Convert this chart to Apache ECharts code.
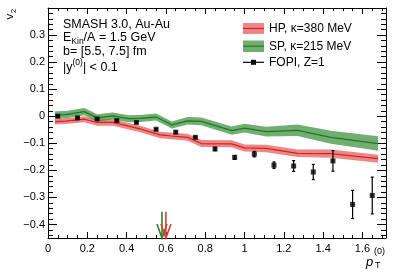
<!DOCTYPE html>
<html><head><meta charset="utf-8">
<script src="https://cdn.jsdelivr.net/npm/echarts@6/dist/echarts.min.js"></script>
<style>html,body{margin:0;padding:0;background:#fff}#c{width:399px;height:272px}</style>
</head><body><div id="c"></div>
<script>
// ---- data ----
const fopiX   = [0.05, 0.15, 0.25, 0.35, 0.45, 0.55, 0.65, 0.75, 0.85, 0.95, 1.05, 1.15, 1.25, 1.35, 1.45, 1.55, 1.65];
const fopiY   = [0.000, -0.006, -0.010, -0.016, -0.023, -0.048, -0.059, -0.078, -0.121, -0.152, -0.140, -0.181, -0.184, -0.206, -0.165, -0.326, -0.293];
const fopiErr = [0.003, 0.003, 0.003, 0.003, 0.003, 0.003, 0.004, 0.004, 0.006, 0.007, 0.010, 0.012, 0.020, 0.028, 0.038, 0.052, 0.068];

const spX   = [0.035, 0.09, 0.185, 0.25, 0.33, 0.41, 0.47, 0.55, 0.63, 0.71, 0.78, 0.935, 1.0, 1.11, 1.27, 1.44, 1.68];
const spY   = [0.005, 0.006, 0.017, -0.006, 0.001, -0.009, -0.008, -0.003, -0.032, -0.017, -0.019, -0.053, -0.044, -0.057, -0.052, -0.078, -0.101];
const spErr = [0.013, 0.013, 0.013, 0.013, 0.013, 0.013, 0.013, 0.013, 0.013, 0.014, 0.014, 0.015, 0.016, 0.018, 0.021, 0.024, 0.027];

const hpX   = [0.035, 0.09, 0.185, 0.25, 0.33, 0.47, 0.57, 0.63, 0.71, 0.78, 0.935, 1.0, 1.11, 1.27, 1.44, 1.68];
const hpY   = [-0.020, -0.018, -0.011, -0.023, -0.023, -0.047, -0.069, -0.073, -0.078, -0.101, -0.102, -0.117, -0.119, -0.137, -0.138, -0.157];
const hpErr = [0.011, 0.011, 0.011, 0.012, 0.012, 0.012, 0.012, 0.012, 0.013, 0.013, 0.013, 0.013, 0.014, 0.014, 0.015, 0.015];

const arrowX   = [0.58, 0.60];
const arrowTop = [-0.353, -0.353];

const xMajor = [0, 0.2, 0.4, 0.6, 0.8, 1.0, 1.2, 1.4, 1.6];
const yMajor = [-0.4, -0.3, -0.2, -0.1, 0, 0.1, 0.2, 0.3, 0.4];
const xMinor = []; for (let i = 1; i <= 34; i++) if (i % 4) xMinor.push(+(i * 0.05).toFixed(2));
const yMinor = []; for (let i = -22; i <= 20; i++) if (i % 5) yMinor.push(+(i * 0.02).toFixed(2));

const X_MIN = 0, X_MAX = 1.72, Y_MIN = -0.45, Y_MAX = 0.4;

// ---- styles ----
const FONT = '"Liberation Sans", Arial, Helvetica, sans-serif';
const RED_FILL = 'rgba(225,55,55,0.6)', RED_LINE = '#d42020';
const GRN_FILL = 'rgba(45,135,45,0.68)', GRN_LINE = '#1e7a1e';

const ctx = document.createElement('canvas').getContext('2d');
function tw(t, s, it) { ctx.font = (it ? 'italic ' : '') + s + 'px ' + FONT; return ctx.measureText(t).width; }
function runs(x0, y, parts) {
  let x = x0; const out = [];
  parts.forEach(p => {
    out.push({type: 'text', x: x, y: y + (p.dy || 0), silent: true,
      style: {text: p.t, fontSize: p.s, fontFamily: FONT, fontStyle: p.it ? 'italic' : 'normal', fill: '#000', align: 'left', verticalAlign: 'middle'}});
    x += tw(p.t, p.s, p.it);
  });
  return out;
}
const fmt = v => (Math.abs(v) < 1e-9 ? '0' : (v < 0 ? '\u2212' + (+Math.abs(v).toFixed(2)) : String(+v.toFixed(2))));

function axes(dim, min, max, major, minor, lenMaj, lenMin, posA, posB) {
  const base = {type: 'value', min: min, max: max, splitLine: {show: false}, axisPointer: {show: false}};
  const line = {show: true, onZero: false, lineStyle: {color: '#000', width: 1}};
  const noLine = {show: false, onZero: false};
  const tk = (vals, len) => ({show: true, inside: true, length: len, customValues: vals, lineStyle: {color: '#000', width: 1}});
  return [
    Object.assign({}, base, {position: posA, axisLine: line, axisTick: tk(major, lenMaj),
      axisLabel: {show: true, customValues: major.filter(v => v < max - 1e-6 && (dim === 'x' || v < 0.35)), formatter: fmt,
        fontSize: 11, fontFamily: FONT, color: '#000', margin: dim === 'x' ? 5 : 3}}),
    Object.assign({}, base, {position: posA, axisLine: noLine, axisTick: tk(minor, lenMin), axisLabel: {show: false}}),
    Object.assign({}, base, {position: posB, axisLine: line, axisTick: tk(major, lenMaj), axisLabel: {show: false}}),
    Object.assign({}, base, {position: posB, axisLine: noLine, axisTick: tk(minor, lenMin), axisLabel: {show: false}})
  ];
}

function band(xs, ys, es, fill, z) {
  return {type: 'custom', xAxisIndex: 0, yAxisIndex: 0, z: z, silent: true, clip: true,
    data: xs.map((x, i) => [x, ys[i], es[i]]),
    renderItem: (params, api) => {
      if (params.dataIndex !== 0) return null;
      const up = xs.map((x, i) => api.coord([x, ys[i] + es[i]]));
      const lo = xs.map((x, i) => api.coord([x, ys[i] - es[i]])).reverse();
      return {type: 'polygon', shape: {points: up.concat(lo)}, style: {fill: fill, stroke: null}};
    }};
}
function centre(xs, ys, color, z) {
  return {type: 'line', xAxisIndex: 0, yAxisIndex: 0, z: z, silent: true, symbol: 'none', animation: false,
    data: xs.map((x, i) => [x, ys[i]]), lineStyle: {color: color, width: 1.2}};
}

const chart = echarts.init(document.getElementById('c'), null, {renderer: 'canvas'});
chart.setOption({
  animation: false,
  backgroundColor: '#fff',
  grid: {left: 48, right: 13, top: 8, bottom: 34, containLabel: false},
  xAxis: axes('x', X_MIN, X_MAX, xMajor, xMinor, 6, 3, 'bottom', 'top'),
  yAxis: axes('y', Y_MIN, Y_MAX, yMajor, yMinor, 9, 5, 'left', 'right'),
  series: [
    band(hpX, hpY, hpErr, RED_FILL, 1),
    band(spX, spY, spErr, GRN_FILL, 2),
    centre(hpX, hpY, RED_LINE, 3),
    centre(spX, spY, GRN_LINE, 3),
    {type: 'custom', xAxisIndex: 0, yAxisIndex: 0, z: 4, silent: true,
      data: fopiX.map((x, i) => [x, fopiY[i], fopiErr[i]]),
      renderItem: (params, api) => {
        const x = api.value(0), y = api.value(1), e = api.value(2);
        const a = api.coord([x, y + e]), b = api.coord([x, y - e]);
        const st = {stroke: '#000', lineWidth: 1.2};
        return {type: 'group', children: [
          {type: 'line', shape: {x1: a[0], y1: a[1], x2: b[0], y2: b[1]}, style: st},
          {type: 'line', shape: {x1: a[0] - 1.5, y1: a[1], x2: a[0] + 1.5, y2: a[1]}, style: st},
          {type: 'line', shape: {x1: b[0] - 1.5, y1: b[1], x2: b[0] + 1.5, y2: b[1]}, style: st}
        ]};
      }},
    {type: 'scatter', xAxisIndex: 0, yAxisIndex: 0, z: 5, silent: true, symbol: 'rect', symbolSize: 5,
      itemStyle: {color: '#000'}, data: fopiX.map((x, i) => [x, fopiY[i]])},
    {type: 'custom', xAxisIndex: 0, yAxisIndex: 0, z: 6, silent: true, clip: false,
      data: arrowX.map((x, i) => [x, arrowTop[i]]),
      renderItem: (params, api) => {
        const x = api.value(0), t = api.value(1);
        const p1 = api.coord([x, t]), p2 = api.coord([x, Y_MIN]);
        const col = params.dataIndex === 0 ? '#2a8a2a' : '#e03c3c';
        const st = {stroke: col, lineWidth: 1.6};
        return {type: 'group', children: [
          {type: 'line', shape: {x1: p1[0], y1: p1[1], x2: p2[0], y2: p2[1]}, style: st},
          {type: 'polyline', shape: {points: [[p2[0] - 5, p2[1] - 14], [p2[0], p2[1]], [p2[0] + 5, p2[1] - 14]]}, style: Object.assign({fill: null}, st)}
        ]};
      }}
  ],
  graphic: [].concat(
    runs(63, 25, [{t: 'SMASH 3.0, Au-Au', s: 12.5}]),
    runs(63, 38, [{t: 'E', s: 12.5}, {t: 'Kin', s: 8.5, dy: 4}, {t: '/A = 1.5 GeV', s: 12.5}]),
    runs(63, 52, [{t: 'b= [5.5, 7.5] fm', s: 12.5}]),
    runs(63, 68, [{t: '|y', s: 12.5}, {t: '(0)', s: 8.5, dy: -5}, {t: '| < 0.1', s: 12.5}]),
    [
      {type: 'rect', shape: {x: 243, y: 23, width: 21, height: 11}, style: {fill: RED_FILL}, silent: true},
      {type: 'line', shape: {x1: 243, y1: 28.5, x2: 264, y2: 28.5}, style: {stroke: RED_LINE, lineWidth: 1.2}, silent: true},
      {type: 'rect', shape: {x: 243, y: 40.5, width: 21, height: 11.5}, style: {fill: GRN_FILL}, silent: true},
      {type: 'line', shape: {x1: 243, y1: 46.2, x2: 264, y2: 46.2}, style: {stroke: GRN_LINE, lineWidth: 1.2}, silent: true},
      {type: 'line', shape: {x1: 243, y1: 62.3, x2: 264, y2: 62.3}, style: {stroke: '#000', lineWidth: 1.2}, silent: true},
      {type: 'rect', shape: {x: 251, y: 59.8, width: 5, height: 5}, style: {fill: '#000'}, silent: true}
    ],
    runs(269, 28.5, [{t: 'HP, \u03ba=380 MeV', s: 12}]),
    runs(269, 46.2, [{t: 'SP, \u03ba=215 MeV', s: 12}]),
    runs(269, 63, [{t: 'FOPI, Z=1', s: 12}]),
    [{type: 'group', x: 10, y: 19.5, rotation: Math.PI / 2, silent: true, children: [
      {type: 'text', x: 0, y: 0, style: {text: 'v', fontSize: 11.5, fontFamily: FONT, fill: '#000', align: 'left', verticalAlign: 'middle'}},
      {type: 'text', x: tw('v', 11.5) + 0.5, y: 4, style: {text: '2', fontSize: 8, fontFamily: FONT, fill: '#000', align: 'left', verticalAlign: 'middle'}}
    ]}],
    runs(366, 262, [{t: 'p', s: 13, it: true}]),
    runs(375, 266, [{t: 'T', s: 9}]),
    runs(374, 251.5, [{t: '(0)', s: 9}])
  )
});
</script>
</body></html>
